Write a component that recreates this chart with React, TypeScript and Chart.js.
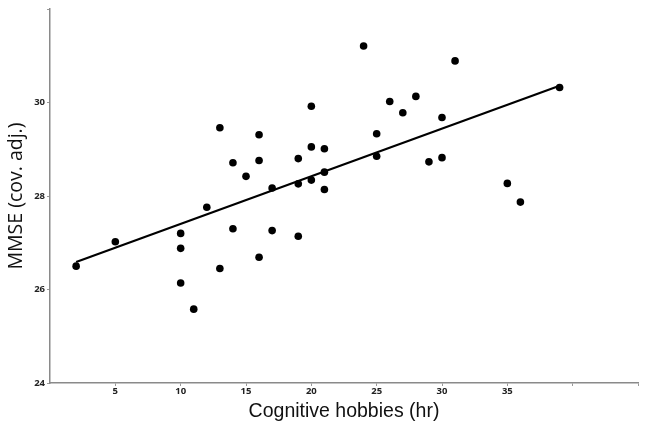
import React, { useEffect, useRef } from "react";
import { Chart, registerables } from "chart.js";

Chart.register(...registerables);

const hobbiesHr = [2, 5, 10, 10, 10, 11, 12, 13, 13, 14, 14, 15, 16, 16, 16, 17, 17, 19, 19, 19, 20, 20, 20, 21, 21, 21, 24, 25, 25, 26, 27, 28, 29, 30, 30, 31, 35, 36, 39];
const mmseAdj = [26.5, 27.02, 27.2, 26.88, 26.14, 25.58, 27.76, 29.46, 26.45, 28.71, 27.3, 28.42, 29.31, 28.76, 26.69, 28.17, 27.26, 28.8, 28.26, 27.14, 29.92, 29.05, 28.34, 29.01, 28.51, 28.14, 31.21, 29.33, 28.85, 30.02, 29.78, 30.13, 28.73, 29.68, 28.82, 30.89, 28.27, 27.87, 30.32];
const fitX = [2, 39];
const fitY = [26.59, 30.36];
const xTickLabels = [5, 10, 15, 20, 25, 30, 35];
const yTickLabels = [24, 26, 28, 30];

export default function App() {
  const ref = useRef<HTMLCanvasElement>(null);
  useEffect(() => {
    const canvas = ref.current!;
    const chart = new Chart(canvas, {
      type: "scatter",
      data: {
        datasets: [
          {
            type: "line",
            data: fitX.map((x, i) => ({ x, y: fitY[i] })),
            borderColor: "#000",
            borderWidth: 2.2,
            pointRadius: 0,
            fill: false,
          },
          {
            data: hobbiesHr.map((x, i) => ({ x, y: mmseAdj[i] })),
            backgroundColor: "#000",
            borderColor: "#000",
            borderWidth: 0,
            pointRadius: 3.8,
          },
        ],
      },
      options: {
        animation: false,
        responsive: false,
        layout: { padding: { top: 9, right: 10, bottom: 0, left: 0 } },
        plugins: { legend: { display: false }, tooltip: { enabled: false } },
        scales: {
          x: {
            type: "linear",
            min: 0,
            max: 45,
            afterFit: (s: any) => { s.height = 53; },
            afterBuildTicks: (s: any) => {
              s.ticks = [5, 10, 15, 20, 25, 30, 35, 40, 45].map((v) => ({ value: v }));
            },
            ticks: {
              autoSkip: false,
              maxRotation: 0,
              padding: 0,
              color: "#222",
              font: { family: "'Open Sans'", size: 9.5, weight: "bold" },
              callback: (v: any) => (xTickLabels.includes(Number(v)) ? String(v) : ""),
            },
            grid: { drawOnChartArea: false, tickLength: 3, color: "#999", lineWidth: 1 },
            border: { color: "#8a8a8a", width: 1.5 },
            title: {
              display: true,
              text: "Cognitive hobbies (hr)",
              color: "#111",
              font: { family: "'Liberation Sans'", size: 19.5 },
              padding: { top: 0, bottom: 13 },
            },
          },
          y: {
            type: "linear",
            min: 24,
            max: 32,
            afterFit: (s: any) => { s.width = 50; },
            afterBuildTicks: (s: any) => {
              s.ticks = [24, 26, 28, 30, 32].map((v) => ({ value: v }));
            },
            ticks: {
              autoSkip: false,
              padding: 2,
              color: "#222",
              font: { family: "'Open Sans'", size: 9.5, weight: "bold" },
              callback: (v: any) => (yTickLabels.includes(Number(v)) ? String(v) : ""),
            },
            grid: { drawOnChartArea: false, tickLength: 3, color: "#999", lineWidth: 1 },
            border: { color: "#8a8a8a", width: 1.5 },
            title: {
              display: true,
              text: "MMSE (cov. adj.)",
              color: "#111",
              font: { family: "'Open Sans'", size: 19.5 },
              padding: { top: 5, bottom: 0 },
            },
          },
        },
      },
    });
    return () => chart.destroy();
  }, []);
  return (
    <div style={{ position: "absolute", left: 0, top: 0, width: 648, height: 436, background: "#fff" }}>
      <canvas ref={ref} width={648} height={436} style={{ width: 648, height: 436 }} />
    </div>
  );
}
